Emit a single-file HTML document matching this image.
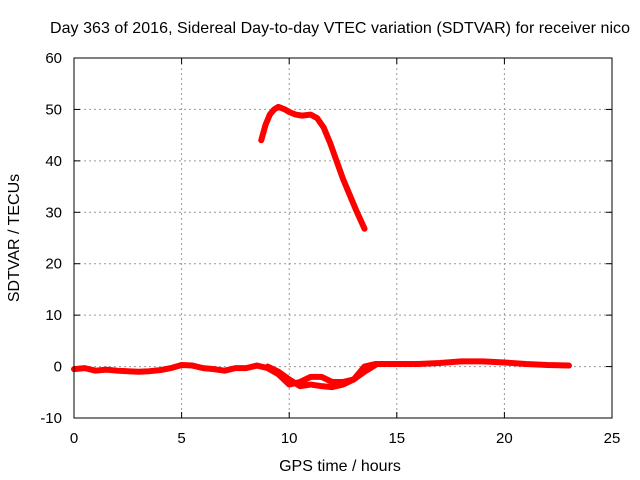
<!DOCTYPE html>
<html><head><meta charset="utf-8"><style>body{margin:0;background:#fff}svg{display:block}text{font-family:"Liberation Sans",sans-serif;font-size:15px;fill:#000}.big{font-size:16px}</style></head>
<body>
<svg id="c" width="640" height="480">
<text class="big" x="340" y="33" text-anchor="middle" textLength="580">Day 363 of 2016, Sidereal Day-to-day VTEC variation (SDTVAR) for receiver nico</text>
<text class="big" x="340" y="471" text-anchor="middle">GPS time / hours</text>
<text class="big" transform="translate(19,238) rotate(-90)" text-anchor="middle">SDTVAR / TECUs</text>
<g id="grid"></g><g id="series"></g>
<rect x="74" y="58" width="538" height="360" fill="none" stroke="#000"/>
</svg>
<script>
const xTicks=[0,5,10,15,20,25];
const yTicks=[-10,0,10,20,30,40,50,60];
const upperX=[8.7,8.9,9.1,9.3,9.5,9.8,10,10.3,10.6,11,11.3,11.6,11.9,12.2,12.5,12.8,13.1,13.5];
const upperY=[44,47,49,50,50.5,50,49.5,49,48.8,49,48.3,46.5,43.5,40,36.5,33.5,30.5,26.8];
const lowerX=[0,0.5,1,1.5,2,2.5,3,3.5,4,4.5,5,5.5,6,6.5,7,7.5,8,8.5,9,9.5,10,10.5,11,11.5,12,12.5,13,13.5,14,14.5,15,16,17,18,19,20,21,22,23];
const lowerY=[-0.5,-0.3,-0.8,-0.6,-0.8,-0.9,-1,-0.9,-0.7,-0.3,0.3,0.2,-0.3,-0.5,-0.8,-0.3,-0.3,0.2,-0.3,-1.5,-3.5,-3,-2,-2,-3,-3,-2.5,0,0.5,0.5,0.5,0.5,0.7,1,1,0.8,0.5,0.3,0.2];
const branchX=[9.0,9.5,10,10.5,11,11.5,12,12.5,13,13.5,14];
const branchY=[0,-1,-2.5,-3.8,-3.5,-3.8,-4,-3.5,-2.5,-1,0.3];
const sx=v=>74+v*538/25, sy=v=>418-(v+10)*360/70;
const NS='http://www.w3.org/2000/svg';
const g=document.getElementById('grid'), s=document.getElementById('series');
function mk(tag,a,p){const e=document.createElementNS(NS,tag);for(const k in a)e.setAttribute(k,a[k]);p.appendChild(e);return e;}
xTicks.forEach(t=>{
 if(t>0&&t<25){const l=mk('line',{x1:sx(t),x2:sx(t),y1:58,y2:418,stroke:'#999','stroke-dasharray':'2,3'},g);
 
 }
 const tx=mk('text',{x:sx(t),y:443,'text-anchor':'middle'},g);tx.textContent=t;
 
 
 mk('line',{x1:sx(t),x2:sx(t),y1:418,y2:412,stroke:'#000'},g);mk('line',{x1:sx(t),x2:sx(t),y1:58,y2:64,stroke:'#000'},g);
});
yTicks.forEach(t=>{
 if(t>-10&&t<60){const l=mk('line',{x1:74,x2:612,y1:sy(t),y2:sy(t),stroke:'#999','stroke-dasharray':'2,3'},g);
 
 }
 const tx=mk('text',{x:62,y:sy(t)+5,'text-anchor':'end'},g);tx.textContent=t;
 
 
 mk('line',{x1:74,x2:80,y1:sy(t),y2:sy(t),stroke:'#000'},g);mk('line',{x1:612,x2:606,y1:sy(t),y2:sy(t),stroke:'#000'},g);
});
function series(xs,ys,name){
 const p=mk('polyline',{points:xs.map((x,i)=>sx(x)+','+sy(ys[i])).join(' '),fill:'none',stroke:'#f00','stroke-width':6,'stroke-linejoin':'round','stroke-linecap':'round'},s);
 
 
}
series(upperX,upperY,'upper-arc-series');
series(lowerX,lowerY,'lower-main-series');
series(branchX,branchY,'lower-branch-series');
</script>
</body></html>
